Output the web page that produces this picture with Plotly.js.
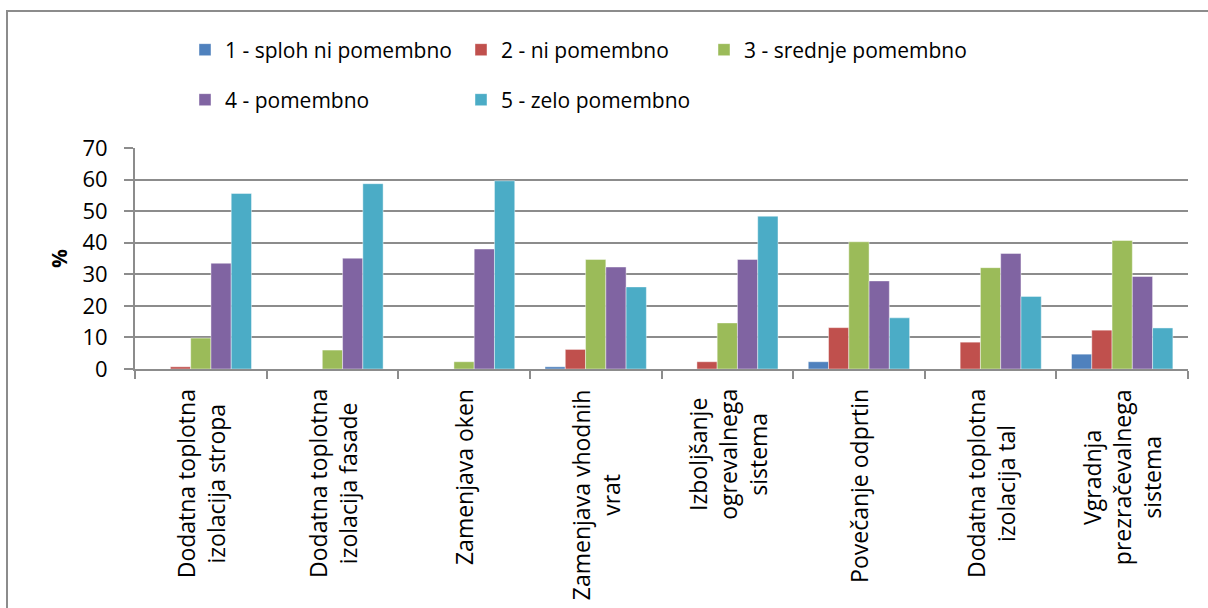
<!DOCTYPE html>
<html>
<head>
<meta charset="utf-8">
<script src="https://cdn.plot.ly/plotly-3.0.1.min.js"></script>
<style>
  html, body { margin: 0; padding: 0; overflow: hidden; background: #fff; width: 1208px; height: 608px; }
  .edge { position: absolute; background: #8c8c8c; }
  #chart { position: absolute; left: 0; top: 0; width: 1208px; height: 608px; }
</style>
</head>
<body>
<div class="edge" style="left:6px; top:10px; width:1202px; height:2px;"></div>
<div class="edge" style="left:6px; top:10px; width:2px; height:598px;"></div>
<div id="chart"></div>
<script>
const categories = [
  "Dodatna toplotna<br>izolacija stropa",
  "Dodatna toplotna<br>izolacija fasade",
  "Zamenjava oken",
  "Zamenjava vhodnih<br>vrat",
  "Izboljšanje<br>ogrevalnega<br>sistema",
  "Povečanje odprtin",
  "Dodatna toplotna<br>izolacija tal",
  "Vgradnja<br>prezračevalnega<br>sistema"
];
const seriesNames = ["1 - sploh ni pomembno", "2 - ni pomembno", "3 - srednje pomembno", "4 - pomembno", "5 - zelo pomembno"];
const s1 = [0, 0, 0, 0.7, 0, 2.3, 0, 4.7];
const s2 = [0.7, 0, 0, 6.2, 2.3, 13.1, 8.5, 12.3];
const s3 = [9.8, 6.0, 2.3, 34.7, 14.6, 40.3, 32.1, 40.7];
const s4 = [33.5, 35.1, 38.0, 32.3, 34.7, 27.9, 36.6, 29.3];
const s5 = [55.6, 58.7, 59.6, 26.0, 48.4, 16.2, 23.0, 13.0];
const yTicks = [0, 10, 20, 30, 40, 50, 60, 70];
const colors = ["#4F81BD", "#C0504D", "#9BBB59", "#8064A2", "#4BACC6"];

const allSeries = [s1, s2, s3, s4, s5];
const FONT = "Open Sans, Noto Sans, sans-serif";
const legendIds = ["legend", "legend2", "legend3", "legend4", "legend5"];
// legend placement in container pixels (left x, row center y)
const legendPos = [[185, 50], [461, 50], [704, 50], [185, 100], [461, 100]];

const traces = allSeries.map((vals, i) => ({
  type: "bar",
  name: seriesNames[i],
  x: categories,
  y: vals,
  marker: { color: colors[i], line: { color: "rgba(255,255,255,0.55)", width: 0.8 } },
  legend: legendIds[i],
  hoverinfo: "x+y+name"
}));

const layout = {
  width: 1208, height: 608,
  margin: { l: 135, r: 20, t: 148, b: 239, pad: 0 },
  paper_bgcolor: "rgba(0,0,0,0)",
  plot_bgcolor: "rgba(0,0,0,0)",
  font: { family: FONT, size: 19, color: "#000" },
  barmode: "group",
  bargap: 0.23,
  bargroupgap: 0,
  showlegend: true,
  xaxis: {
    type: "category",
    tickson: "boundaries",
    ticks: "outside",
    ticklen: 8,
    tickcolor: "#8c8c8c",
    tickwidth: 2,
    showline: true,
    linecolor: "#8c8c8c",
    linewidth: 2,
    showgrid: false,
    showticklabels: false
  },
  yaxis: {
    range: [0, 70],
    tickvals: yTicks,
    ticktext: yTicks.map(String),
    ticks: "outside",
    ticklen: 9,
    tickcolor: "#8c8c8c",
    tickwidth: 2,
    showline: true,
    linecolor: "#8c8c8c",
    linewidth: 2,
    showgrid: true,
    gridcolor: "#8c8c8c",
    gridwidth: 2,
    zeroline: false,
    tickfont: { family: FONT, size: 22, color: "#000" },
    ticklabelstandoff: 12,
    title: { text: "<b>%</b>", font: { family: FONT, size: 21, color: "#000" }, standoff: 9 }
  },
  annotations: categories.map(c => ({
    x: c, xref: "x",
    y: 0, yref: "y",
    yshift: -18,
    xanchor: "center", yanchor: "top",
    textangle: -90,
    align: "center",
    showarrow: false,
    text: c,
    font: { family: FONT, size: 23, color: "#000" }
  }))
};

legendIds.forEach((id, i) => {
  layout[id] = {
    orientation: "h",
    xref: "container", yref: "container",
    xanchor: "left", yanchor: "middle",
    x: legendPos[i][0] / 1208,
    y: 1 - legendPos[i][1] / 608,
    font: { family: FONT, size: 21, color: "#000" },
    bgcolor: "rgba(0,0,0,0)"
  };
});

Plotly.newPlot("chart", traces, layout, { displayModeBar: false, responsive: false });
</script>
</body>
</html>
